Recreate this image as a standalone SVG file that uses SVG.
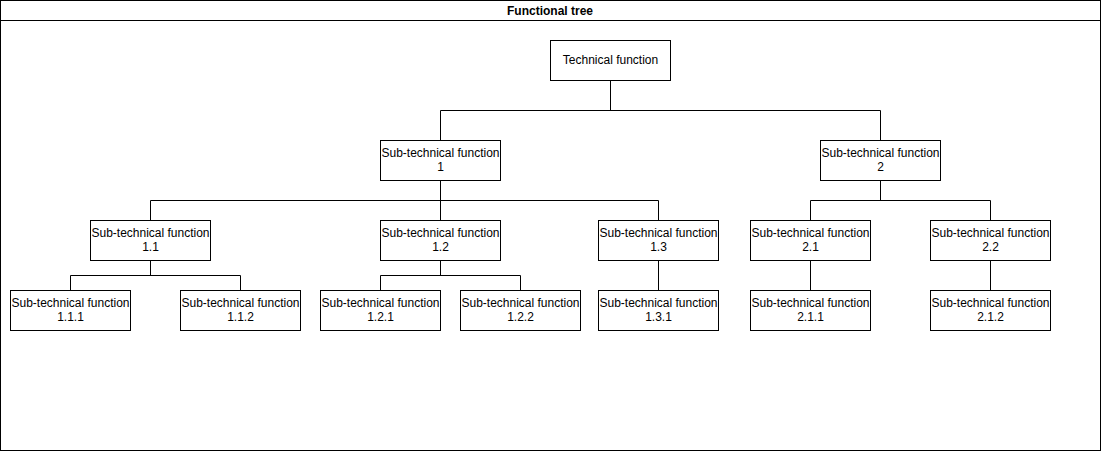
<svg xmlns="http://www.w3.org/2000/svg" width="1101" height="451" viewBox="0 0 1101 451">
<style>
.b{fill:#fff;stroke:#000;stroke-width:1}
.t{font-family:"Liberation Sans",Arial,sans-serif;font-size:12px;text-anchor:middle;fill:#000}
.c{fill:none;stroke:#000;stroke-width:1}
</style>
<g id="frame">
<rect x="0.5" y="0.5" width="1100" height="450" fill="#fff" stroke="#000"/>
<line x1="0.5" y1="20.5" x2="1100.5" y2="20.5" stroke="#000"/>
<text x="550" y="15" class="t" font-weight="bold">Functional tree</text>
</g>
<g id="connectors">
<path class="c" d="M610.5 80.5V110.5M440.5 110.5H880.5M440.5 110.5V140.5M880.5 110.5V140.5"/>
<path class="c" d="M440.5 180.5V200.5M150.5 200.5H658.5M150.5 200.5V220.5M440.5 200.5V220.5M658.5 200.5V220.5"/>
<path class="c" d="M880.5 180.5V200.5M810.5 200.5H990.5M810.5 200.5V220.5M990.5 200.5V220.5"/>
<path class="c" d="M150.5 260.5V275.5M70.5 275.5H240.5M70.5 275.5V290.5M240.5 275.5V290.5"/>
<path class="c" d="M440.5 260.5V275.5M380.5 275.5H520.5M380.5 275.5V290.5M520.5 275.5V290.5"/>
<path class="c" d="M658.5 260.5V290.5M810.5 260.5V290.5M990.5 260.5V290.5"/>
</g>
<g id="n0"><rect class="b" x="550.5" y="40.5" width="120" height="40"/><text class="t" x="610.5" y="64">Technical function</text></g>
<g id="n1"><rect class="b" x="380.5" y="140.5" width="120" height="40"/><text class="t" x="440.5" y="157">Sub-technical function</text><text class="t" x="440.5" y="171">1</text></g>
<g id="n2"><rect class="b" x="820.5" y="140.5" width="120" height="40"/><text class="t" x="880.5" y="157">Sub-technical function</text><text class="t" x="880.5" y="171">2</text></g>
<g id="n11"><rect class="b" x="90.5" y="220.5" width="120" height="40"/><text class="t" x="150.5" y="237">Sub-technical function</text><text class="t" x="150.5" y="251">1.1</text></g>
<g id="n12"><rect class="b" x="380.5" y="220.5" width="120" height="40"/><text class="t" x="440.5" y="237">Sub-technical function</text><text class="t" x="440.5" y="251">1.2</text></g>
<g id="n13"><rect class="b" x="598.5" y="220.5" width="120" height="40"/><text class="t" x="658.5" y="237">Sub-technical function</text><text class="t" x="658.5" y="251">1.3</text></g>
<g id="n21"><rect class="b" x="750.5" y="220.5" width="120" height="40"/><text class="t" x="810.5" y="237">Sub-technical function</text><text class="t" x="810.5" y="251">2.1</text></g>
<g id="n22"><rect class="b" x="930.5" y="220.5" width="120" height="40"/><text class="t" x="990.5" y="237">Sub-technical function</text><text class="t" x="990.5" y="251">2.2</text></g>
<g id="n111"><rect class="b" x="10.5" y="290.5" width="120" height="40"/><text class="t" x="70.5" y="307">Sub-technical function</text><text class="t" x="70.5" y="321">1.1.1</text></g>
<g id="n112"><rect class="b" x="180.5" y="290.5" width="120" height="40"/><text class="t" x="240.5" y="307">Sub-technical function</text><text class="t" x="240.5" y="321">1.1.2</text></g>
<g id="n121"><rect class="b" x="320.5" y="290.5" width="120" height="40"/><text class="t" x="380.5" y="307">Sub-technical function</text><text class="t" x="380.5" y="321">1.2.1</text></g>
<g id="n122"><rect class="b" x="460.5" y="290.5" width="120" height="40"/><text class="t" x="520.5" y="307">Sub-technical function</text><text class="t" x="520.5" y="321">1.2.2</text></g>
<g id="n131"><rect class="b" x="598.5" y="290.5" width="120" height="40"/><text class="t" x="658.5" y="307">Sub-technical function</text><text class="t" x="658.5" y="321">1.3.1</text></g>
<g id="n211"><rect class="b" x="750.5" y="290.5" width="120" height="40"/><text class="t" x="810.5" y="307">Sub-technical function</text><text class="t" x="810.5" y="321">2.1.1</text></g>
<g id="n212"><rect class="b" x="930.5" y="290.5" width="120" height="40"/><text class="t" x="990.5" y="307">Sub-technical function</text><text class="t" x="990.5" y="321">2.1.2</text></g>
</svg>
